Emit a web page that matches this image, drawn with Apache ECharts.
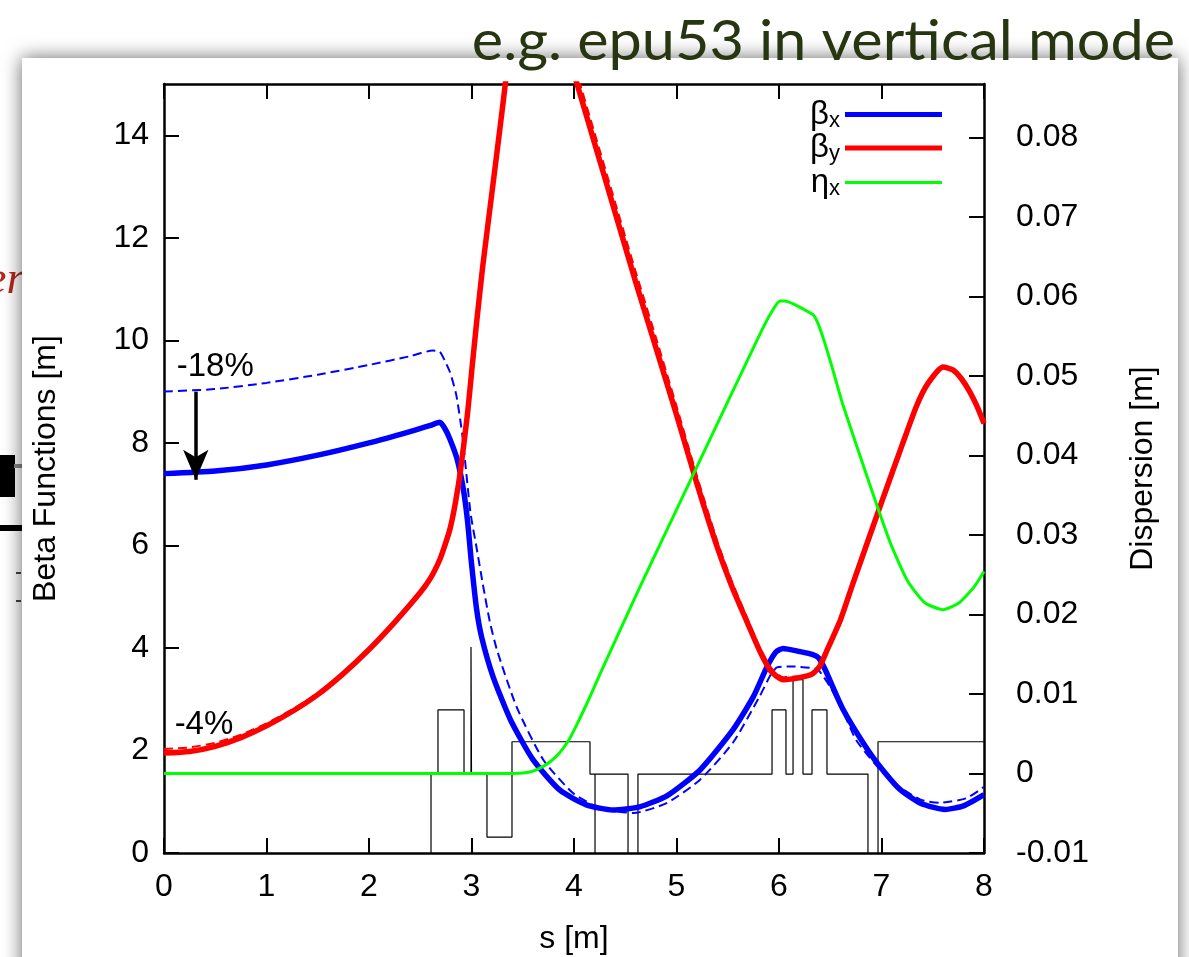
<!DOCTYPE html>
<html><head><meta charset="utf-8">
<script src="https://cdn.jsdelivr.net/npm/echarts@6/dist/echarts.min.js"></script>
<style>html,body{margin:0;padding:0;background:#fff}#c{width:1189px;height:957px}</style>
</head><body><div id="c"></div><script>
// ---- data (s [m], value) ----
const betaX = [[0,7.40],[0.5,7.45],[1.0,7.57],[1.5,7.76],[2.0,8.00],[2.4,8.22],[2.6,8.34],[2.69,8.40],[2.74,8.28],[2.79,8.07],[2.86,7.68],[2.92,7.10],[2.96,6.50],[3.0,5.65],[3.05,4.75],[3.1,4.20],[3.21,3.44],[3.38,2.60],[3.6,1.82],[3.86,1.23],[4.12,0.94],[4.38,0.84],[4.64,0.90],[4.91,1.12],[5.23,1.62],[5.55,2.40],[5.75,3.05],[5.88,3.62],[5.97,3.92],[6.04,3.99],[6.2,3.93],[6.33,3.87],[6.39,3.80],[6.45,3.58],[6.62,2.82],[6.86,2.03],[7.02,1.60],[7.18,1.24],[7.38,0.97],[7.62,0.85],[7.8,0.92],[8.0,1.14]];
const betaXRef = [[0,9.00],[0.5,9.05],[1.0,9.17],[1.5,9.33],[2.0,9.52],[2.4,9.69],[2.62,9.80],[2.69,9.78],[2.74,9.60],[2.79,9.38],[2.85,8.95],[2.91,8.16],[2.99,6.64],[3.05,5.95],[3.11,5.25],[3.18,4.50],[3.25,3.95],[3.44,2.85],[3.70,1.82],[3.99,1.17],[4.25,0.88],[4.58,0.78],[4.91,0.98],[5.23,1.43],[5.55,2.15],[5.81,3.05],[5.92,3.48],[5.98,3.62],[6.1,3.64],[6.37,3.59],[6.43,3.45],[6.5,3.24],[6.62,2.78],[6.76,2.18],[7.08,1.43],[7.38,1.04],[7.57,0.98],[7.83,1.07],[8.0,1.29]];
const betaY = [[0,1.95],[0.25,1.98],[0.5,2.08],[0.75,2.25],[1.0,2.48],[1.25,2.76],[1.5,3.09],[1.75,3.50],[2.0,3.97],[2.25,4.50],[2.5,5.08],[2.6,5.36],[2.69,5.72],[2.74,6.0],[2.79,6.32],[2.84,6.8],[2.89,7.42],[2.96,8.55],[3.0,9.36],[3.05,10.35],[3.11,11.45],[3.21,13.05],[3.30,14.5],[3.35,15.3],[3.45,16.3],[3.6,17.0],[3.75,16.9],[3.9,15.9],[4.03,15.0],[4.2,13.85],[4.4,12.5],[4.6,11.15],[4.8,9.85],[5.0,8.55],[5.2,7.2],[5.4,5.95],[5.54,5.2],[5.69,4.5],[5.81,3.95],[5.92,3.55],[6.04,3.38],[6.2,3.42],[6.33,3.5],[6.4,3.65],[6.47,3.96],[6.6,4.55],[6.72,5.25],[7.02,6.95],[7.2,7.95],[7.34,8.71],[7.45,9.15],[7.6,9.48],[7.7,9.42],[7.78,9.25],[7.86,9.0],[7.93,8.72],[8.0,8.38]];
const betaYRef = [[0,2.03],[0.25,2.06],[0.5,2.15],[0.75,2.31],[1.0,2.53],[1.25,2.80],[1.5,3.12],[1.75,3.52],[2.0,3.99],[2.25,4.52],[2.5,5.10],[2.6,5.38],[2.69,5.74],[2.74,6.02],[2.79,6.34],[2.84,6.78],[2.89,7.38],[2.96,8.46],[3.0,9.25],[3.05,10.2],[3.11,11.32],[3.21,12.92],[3.30,14.35],[3.35,15.15],[3.45,16.2],[3.6,16.95],[3.75,16.95],[3.9,16.05],[4.03,15.2],[4.2,14.05],[4.4,12.7],[4.6,11.35],[4.8,10.05],[5.0,8.72],[5.2,7.35],[5.4,6.07],[5.54,5.3],[5.69,4.58],[5.81,4.02],[5.92,3.62],[6.04,3.43],[6.2,3.45],[6.33,3.5],[6.4,3.63],[6.47,3.92],[6.6,4.5],[6.72,5.2],[7.02,6.9],[7.2,7.9],[7.34,8.68],[7.45,9.13],[7.6,9.46],[7.7,9.42],[7.78,9.26],[7.86,9.02],[7.93,8.75],[8.0,8.42]];
const etaX = [[0,0],[3.4,0],[3.5,0.00005],[3.6,0.0003],[3.7,0.0009],[3.78,0.0016],[3.86,0.0026],[3.95,0.0042],[4.03,0.0062],[4.14,0.0092],[4.25,0.0124],[4.52,0.0200],[4.67,0.0242],[5.13,0.0367],[5.55,0.0481],[5.85,0.0562],[5.95,0.0585],[6.01,0.0594],[6.05,0.0594],[6.33,0.0577],[6.38,0.0566],[6.44,0.0544],[6.52,0.0510],[6.62,0.0465],[6.86,0.0373],[7.08,0.0292],[7.25,0.0243],[7.42,0.0215],[7.6,0.0206],[7.75,0.0214],[7.9,0.0234],[8.0,0.0254]];
const lattice = [[0,-1],[2.605,-1],[2.605,1.54],[2.673,1.54],[2.673,2.79],[2.927,2.79],[2.927,1.54],[2.995,1.54],[2.995,4.02],[3.0,4.02],[3.0,1.54],[3.151,1.54],[3.151,0.31],[3.395,0.31],[3.395,2.17],[4.156,2.17],[4.156,1.54],[4.527,1.54],[4.527,-1],[4.205,-1],[4.205,1.54],[4.527,1.54],[4.527,-1],[4.624,-1],[4.624,1.54],[5.932,1.54],[5.932,2.79],[6.068,2.79],[6.068,1.54],[6.137,1.54],[6.137,3.38],[6.234,3.38],[6.234,1.54],[6.322,1.54],[6.322,2.79],[6.468,2.79],[6.468,1.54],[6.868,1.54],[6.868,-1],[6.966,-1],[6.966,2.17],[8,2.17]];
const arrowFrom = [0.31, 9.0];
const arrowTo = [0.31, 7.28];
const notes = [{text:'-18%', at:[0.50, 9.48]}, {text:'-4%', at:[0.39, 2.50]}];
const titleText = 'e.g. epu53 in vertical mode';

// ---- chart ----
const FONT = '"Liberation Sans", Arial, Helvetica, sans-serif';
const chart = echarts.init(document.getElementById('c'), null, {renderer:'canvas'});
const axLine = {show:true, onZero:false, lineStyle:{color:'#000', width:2.5}};
const axTick = {show:true, inside:true, length:15, lineStyle:{color:'#000', width:2}};
const lbl = {color:'#000', fontSize:32, fontFamily:FONT};
const nameStyle = {color:'#000', fontSize:32, fontFamily:FONT};

function ser(name, data, color, width, dashed, yIdx, extra) {
  return Object.assign({
    name, type:'line', data, xAxisIndex:0, yAxisIndex:yIdx,
    symbol:'none', showSymbol:false, smooth:0.2, clip:true, silent:true,
    itemStyle:{color}, lineStyle:{color, width, type: dashed ? [9,5] : 'solid'},
    emphasis:{disabled:true}, animation:false
  }, extra || {});
}

const legendBase = {
  orient:'vertical', right:247, align:'right', itemWidth:97, itemGap:0, padding:0,
  icon:'rect', selectedMode:false,
  formatter: n => '{b|' + n.charAt(0) + '}{s|' + n.slice(1) + '}',
  textStyle:{color:'#000', fontFamily:FONT, rich:{
    b:{fontSize:33, lineHeight:34, fontFamily:FONT, color:'#000'},
    s:{fontSize:22, lineHeight:10, verticalAlign:'bottom', fontFamily:FONT, color:'#000'}
  }}
};

const option = {
  animation:false,
  backgroundColor:'#fff',
  grid:{left:164, right:205, top:84, bottom:104, containLabel:false, outerBoundsMode:'none'},
  graphic:[
    {type:'text', z:-20, x:-14, y:258, style:{text:'er', font:'italic 46px "Liberation Serif", serif', fill:'#b5261e'}},
    {type:'rect', z:-20, shape:{x:0, y:455, width:15, height:42}, style:{fill:'#000'}},
    {type:'rect', z:-20, shape:{x:14, y:464, width:10, height:4}, style:{fill:'#888'}},
    {type:'rect', z:-20, shape:{x:0, y:525, width:24, height:6}, style:{fill:'#000'}},
    {type:'rect', z:-20, shape:{x:16, y:572, width:5, height:2}, style:{fill:'#444'}},
    {type:'rect', z:-20, shape:{x:16, y:600, width:5, height:2}, style:{fill:'#444'}},
    {type:'rect', z:-10, shape:{x:22, y:58, width:1156, height:960}, style:{fill:'#fff', shadowBlur:18, shadowColor:'rgba(0,0,0,0.6)'}},
    {type:'text', z:10, x:1175, y:70, scaleX:1.06, style:{text:titleText, font:'56px Lato', fill:'#283511', align:'right', verticalAlign:'bottom'}}
  ],
  legend:[
    Object.assign({}, legendBase, {top:98, itemHeight:5, data:['βx','βy']}),
    Object.assign({}, legendBase, {top:166, itemHeight:3, data:['ηx']})
  ],
  xAxis:[
    {type:'value', position:'bottom', min:0, max:8, interval:1, name:'s [m]', nameLocation:'middle', nameGap:70,
     nameTextStyle:nameStyle, axisLine:axLine, axisTick:axTick, axisLabel:Object.assign({margin:18}, lbl), splitLine:{show:false}},
    {type:'value', position:'top', min:0, max:8, interval:1, axisLine:axLine, axisTick:axTick, axisLabel:{show:false}, splitLine:{show:false}}
  ],
  yAxis:[
    {type:'value', position:'left', min:0, max:15, interval:2, name:'Beta Functions [m]', nameLocation:'middle', nameGap:102,
     nameTextStyle:nameStyle, axisLine:axLine, axisTick:axTick, splitLine:{show:false},
     axisLabel:Object.assign({margin:15, showMaxLabel:false, formatter: v => (v < 14.5 && Math.round(v) % 2 === 0) ? String(v) : ''}, lbl)},
    {type:'value', position:'right', min:-0.01, max:0.0867, interval:0.01, name:'Dispersion [m]', nameLocation:'middle', nameGap:143,
     nameTextStyle:nameStyle, axisLine:axLine, axisTick:axTick, splitLine:{show:false},
     axisLabel:Object.assign({margin:32, showMaxLabel:false, formatter: v => { if (v > 0.085) return ''; const r = Math.round(v*100)/100; return r === 0 ? '0' : r.toFixed(2); }}, lbl)}
  ],
  series:[
    ser('lattice', lattice, '#000', 1.2, false, 0, {smooth:false}),
    ser('βx ref', betaXRef, '#0000ff', 2, true, 0, {
      markLine:{silent:true, symbol:['none','arrow'], symbolSize:[19,30], animation:false,
        lineStyle:{color:'#000', width:3.5, type:'solid'}, itemStyle:{color:'#000'}, label:{show:false}, emphasis:{disabled:true},
        data:[[{coord:arrowFrom},{coord:arrowTo}]]},
      markPoint:{silent:true, symbol:'rect', symbolSize:1, itemStyle:{color:'rgba(0,0,0,0)'}, animation:false,
        label:{show:true, position:'inside', color:'#000', fontSize:33, fontFamily:FONT, formatter: p => p.name},
        data: notes.map(n => ({name:n.text, coord:n.at}))}
    }),
    ser('βy ref', betaYRef, '#ff0000', 2, true, 0),
    ser('βx', betaX, '#0000ff', 5.5, false, 0),
    ser('βy', betaY, '#ff0000', 5.5, false, 0),
    ser('ηx', etaX, '#00ff00', 3, false, 1)
  ]
};
chart.setOption(option);
</script></body></html>
